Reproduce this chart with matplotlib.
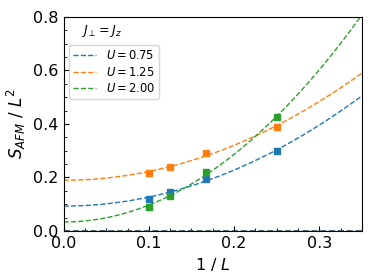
import numpy as np
import matplotlib.pyplot as plt
from matplotlib.ticker import AutoMinorLocator
plt.switch_backend('agg')

inv_L = np.array([1/10, 1/8, 1/6, 1/4])
U_labels = ['0.75', '1.25', '2.00']
s_u075 = [0.120, 0.146, 0.196, 0.300]
s_u125 = [0.215, 0.240, 0.292, 0.390]
s_u200 = [0.090, 0.132, 0.220, 0.425]
colors = ['#1f77b4', '#ff7f0e', '#2ca02c']

fig, ax = plt.subplots(figsize=(3.74, 2.8), dpi=100)
xfit = np.linspace(0, 0.35, 200)
for vals, lab, c in zip([s_u075, s_u125, s_u200], U_labels, colors):
    coef = np.polyfit(inv_L**2, vals, 1)
    ax.plot(xfit, np.polyval(coef, xfit**2), '--', color=c, lw=1, label=r'$U=%s$' % lab)
    ax.plot(inv_L, vals, 's', color=c, ms=4)
ax.axhline(0, color='#2f4f5f', ls='--', lw=1.2)

ax.set_xlim(0, 0.35)
ax.set_ylim(0, 0.8)
ax.set_xticks([0.0, 0.1, 0.2, 0.3])
ax.set_yticks([0.0, 0.2, 0.4, 0.6, 0.8])
ax.xaxis.set_minor_locator(AutoMinorLocator(4))
ax.yaxis.set_minor_locator(AutoMinorLocator(4))
ax.tick_params(which='both', direction='in', labelsize=11.5)
ax.set_xlabel(r'$1\ /\ L$', fontsize=11.5)
ax.set_ylabel(r'$S_{AFM}\ /\ L^2$', fontsize=12)
ax.text(0.06, 0.935, r'$J_{\perp}=J_z$', transform=ax.transAxes, fontsize=9, va='center')
ax.legend(loc='upper left', bbox_to_anchor=(0.0, 0.895), fontsize=8.3, handlelength=2,
          borderpad=0.35, labelspacing=0.3)
fig.subplots_adjust(left=0.17, right=0.968, top=0.94, bottom=0.175)
plt.savefig('out.png')
